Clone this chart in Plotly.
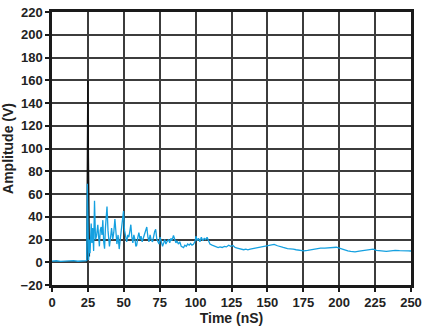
import plotly.graph_objects as go

# Blue waveform (time in nS, amplitude in V)
blue_t = [0, 3, 6, 9, 12, 15, 18, 21, 23, 24.2,
          24.6, 25.0, 25.5, 26.0, 26.5, 27.3, 27.8, 28.3, 29.0, 29.6, 30.3, 31.0, 31.9, 32.5, 33.0,
          33.6, 34.2, 34.8, 35.4, 36.0, 36.6, 37.2, 38.3, 39.0, 40.0, 40.8, 41.5, 42.3, 43.0, 43.8,
          44.5, 45.2, 46.0, 46.8, 47.5, 48.3, 49.0, 49.8, 50.5, 51.3, 52.0, 52.8, 53.5, 54.3, 54.9,
          55.6, 56.3, 57.0, 57.8, 58.4, 59.0, 59.8, 60.5, 61.3, 62.0, 62.8, 63.5, 64.2, 65.0, 66.0,
          66.8, 67.5, 68.3, 69.0, 70.0, 70.8, 71.5, 72.2, 73.0, 73.8, 74.5, 75.3, 76.0, 77.0, 77.8,
          78.5, 79.3, 80.0, 81.3, 82.0, 82.8, 83.5, 84.6, 85.5, 86.3, 87.0, 88.0, 89.0, 90.0, 91.6,
          92.5, 93.5, 94.5, 95.5, 96.5, 97.5, 98.5, 99.5, 100.3, 101.0, 102.0, 103.0, 104.0, 105.0,
          106.0, 107.0, 108.0, 109.0, 110.0, 111.5, 113.0, 114.5, 115.7, 117, 118.5, 120, 121.5, 123,
          124.5, 126, 127.5, 129, 130.5, 132, 133.5, 135, 136.4, 138, 140, 142, 144, 146, 148, 150,
          152, 154.7, 157, 159, 161, 164, 166, 168, 170, 172, 175.4, 178, 180, 182, 184.6, 187, 190,
          193, 196, 198, 200.6, 203, 206, 208, 211, 214, 217, 220, 223.6, 226, 229, 232.8, 236, 239,
          242, 245, 248, 250]
blue_v = [1.0, 1.3, 0.8, 1.2, 1.0, 1.4, 0.9, 1.3, 1.0, 1.5,
          69, 40, 2, 20, 8, 34, 17, 30, 10, 54, 20, 23, 33, 22, 14,
          28, 31, 24, 37, 18, 12, 30, 49, 28, 14, 22, 30, 20, 26, 38,
          22, 16, 24, 11.6, 20, 30, 36, 45, 28, 20, 18, 24, 22, 28, 33,
          22, 17, 24, 20, 14, 15, 22, 26, 20, 23, 18, 21, 25, 28, 31,
          22, 18, 24, 20, 18, 24, 27, 29, 20, 18, 16, 22, 18, 14, 17,
          20, 16, 18, 20, 17, 21, 19, 23.5, 20, 17, 19, 16, 18, 14, 12.9,
          15, 14, 16, 15, 16.5, 15, 15.7, 18, 23, 19, 21, 18, 22, 19,
          21, 20, 22, 19, 16, 15, 14, 13, 12.9, 13.5, 13, 14, 13.5, 15,
          14, 14.8, 13, 12.5, 12, 11.5, 11, 11.5, 10.9, 11.5, 12, 12.5, 13, 13.5, 14, 14.3,
          15, 15.7, 14.5, 13.5, 13, 12, 12, 11.5, 11, 10.8, 10, 10.5, 11, 11.5, 12, 12.5, 12.5,
          13, 12.9, 13.2, 12.3, 11, 10, 9.5, 9.2, 9.8, 10.5, 11, 11.5, 10.5, 10, 9.5, 10, 10.5,
          10.2, 9.8, 10, 9.9]

# Black spike waveform
black_t = [24.3, 24.8, 25.0, 25.3, 25.6, 26.0]
black_v = [0, 100, 160, 92, 60, 5]

x_ticks = [0, 25, 50, 75, 100, 125, 150, 175, 200, 225, 250]
y_ticks = [-20, 0, 20, 40, 60, 80, 100, 120, 140, 160, 180, 200, 220]

font_family = "Liberation Sans, Arial, sans-serif"

fig = go.Figure()
fig.add_trace(go.Scatter(x=black_t, y=black_v, mode="lines",
                         line=dict(color="#111111", width=1.5), showlegend=False))
fig.add_trace(go.Scatter(x=blue_t, y=blue_v, mode="lines",
                         line=dict(color="#14a0e0", width=1.3), showlegend=False))

axis_common = dict(
    showgrid=True, gridcolor="#3c3c3c", gridwidth=1.5,
    showline=True, linecolor="#1a1a1a", linewidth=2.5, mirror=True,
    ticks="outside", ticklen=4, tickcolor="#1a1a1a", tickwidth=1.5,
    zeroline=False,
    tickfont=dict(family=font_family, size=13, color="#222", weight="bold"),
)

fig.update_layout(
    width=427, height=327,
    margin=dict(l=52, r=12, t=5, b=36),
    paper_bgcolor="white", plot_bgcolor="white",
    xaxis=dict(range=[0, 250], tickvals=x_ticks,
               title=dict(text="Time (nS)", standoff=2,
                          font=dict(family=font_family, size=14, color="#222", weight="bold")),
               **axis_common),
    yaxis=dict(range=[-20, 220], tickvals=y_ticks,
               title=dict(text="Amplitude (V)", standoff=4,
                          font=dict(family=font_family, size=14, color="#222", weight="bold")),
               **axis_common),
)

fig.write_html("out.html")
